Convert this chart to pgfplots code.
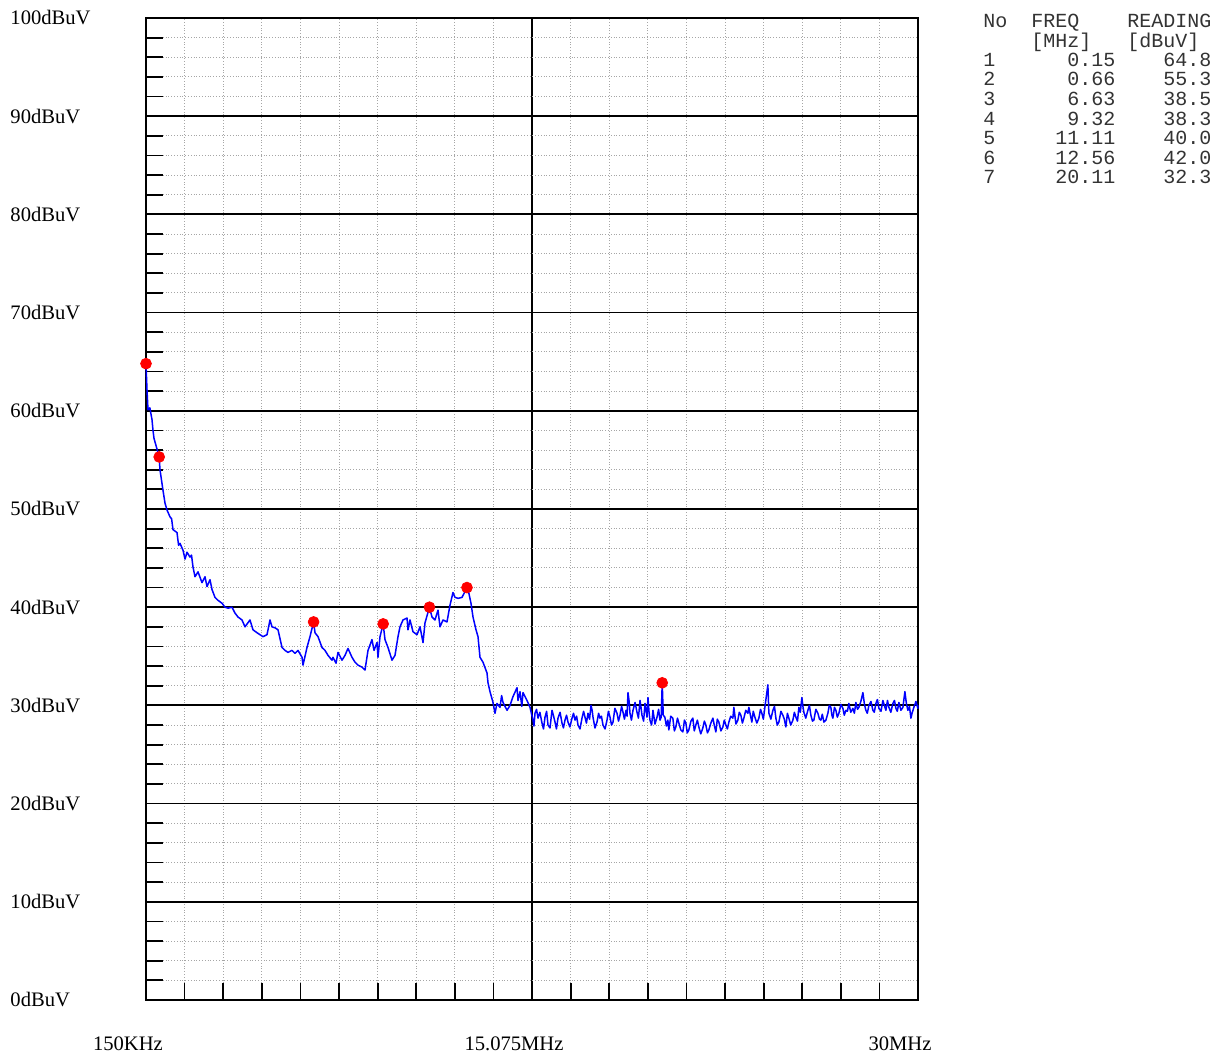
\documentclass[border=0pt]{standalone}
\usepackage{fontspec}
\setmainfont{Liberation Serif}
\setmonofont{Liberation Mono}
\usepackage{pgfplots}
\pgfplotsset{compat=1.18}

\pgfplotstableread{
f v
0.150 64.8
0.189 62.1
0.227 60.1
0.300 60.3
0.382 59.1
0.421 58.0
0.459 57.2
0.660 55.3
0.691 54.0
0.807 51.9
0.885 50.6
0.962 49.9
1.078 49.2
1.140 49.0
1.194 47.9
1.349 47.6
1.410 46.3
1.465 46.5
1.581 45.8
1.660 44.9
1.735 45.6
1.851 45.1
1.910 45.3
1.967 44.1
2.045 43.1
2.161 43.6
2.315 42.5
2.431 43.1
2.509 42.1
2.625 42.8
2.702 41.8
2.760 41.4
2.818 41.0
2.934 40.7
3.089 40.4
3.205 40.0
3.321 39.9
3.475 40.0
3.591 39.4
3.707 39.0
3.862 38.7
3.978 38.0
4.171 38.7
4.287 37.7
4.442 37.4
4.558 37.2
4.674 37.0
4.829 37.2
4.945 38.7
5.022 38.0
5.138 37.9
5.254 37.7
5.409 35.9
5.525 35.6
5.641 35.4
5.795 35.6
5.911 35.3
6.027 35.6
6.182 34.9
6.221 34.1
6.375 35.9
6.491 37.0
6.630 38.5
6.685 37.4
6.801 37.0
6.955 35.9
7.071 35.6
7.187 35.1
7.342 34.6
7.381 34.9
7.497 34.3
7.574 35.4
7.729 34.6
7.845 35.1
7.960 35.8
8.115 34.9
8.231 34.4
8.347 34.1
8.502 33.9
8.618 33.6
8.734 35.6
8.888 36.7
8.966 35.6
9.082 36.4
9.120 34.9
9.198 37.0
9.320 38.3
9.391 36.7
9.507 35.9
9.662 34.6
9.778 35.1
9.894 37.0
9.971 38.0
10.087 38.7
10.242 38.9
10.280 37.7
10.358 38.7
10.474 37.5
10.629 37.2
10.745 38.0
10.861 36.4
10.938 38.4
11.110 40.0
11.208 39.0
11.324 38.7
11.440 39.7
11.518 38.0
11.634 38.7
11.788 38.5
11.904 40.2
12.020 41.5
12.098 41.0
12.214 40.9
12.369 41.0
12.560 42.0
12.620 41.6
12.716 40.4
12.794 39.0
12.910 37.7
12.987 37.0
13.064 34.9
13.180 34.4
13.335 33.3
13.374 32.3
13.451 31.4
13.567 30.3
13.644 29.2
13.722 30.2
13.838 29.8
13.900 31.0
13.954 30.3
14.109 29.5
14.225 30.0
14.341 30.9
14.495 31.8
14.534 30.5
14.611 31.4
14.680 29.9
14.727 31.3
14.804 30.9
14.882 30.5
14.998 29.8
15.114 28.5
15.150 27.9
15.191 29.2
15.250 29.6
15.307 28.7
15.380 29.3
15.462 28.2
15.520 27.6
15.578 28.8
15.640 29.4
15.694 28.0
15.770 27.7
15.849 29.5
15.910 28.9
15.965 28.3
16.020 27.6
16.080 28.7
16.160 29.3
16.235 28.2
16.290 27.7
16.351 28.5
16.410 29.0
16.467 28.3
16.540 27.8
16.622 28.7
16.680 29.2
16.738 28.5
16.800 28.9
16.854 28.0
16.930 27.6
17.008 28.7
17.070 29.4
17.124 28.8
17.180 28.2
17.240 29.2
17.300 28.6
17.356 30.0
17.400 29.5
17.434 28.8
17.510 27.7
17.588 28.3
17.650 29.2
17.704 28.7
17.760 28.9
17.820 28.0
17.900 27.6
17.975 28.5
18.030 29.4
18.091 28.8
18.150 28.0
18.207 28.3
18.280 29.7
18.362 29.2
18.420 28.4
18.478 29.0
18.540 29.9
18.594 29.3
18.650 28.6
18.710 29.5
18.750 28.9
18.787 31.3
18.830 30.4
18.864 29.2
18.920 28.5
18.980 29.5
19.060 30.3
19.135 29.3
19.190 28.7
19.251 30.5
19.290 29.8
19.328 29.0
19.390 28.4
19.444 30.2
19.480 29.6
19.521 28.8
19.560 30.8
19.600 29.3
19.637 28.5
19.700 28.0
19.753 29.5
19.830 28.1
19.908 28.8
19.970 29.6
20.024 28.5
20.070 28.8
20.110 32.3
20.150 29.0
20.212 28.8
20.270 27.9
20.328 28.5
20.366 27.5
20.440 28.9
20.521 28.7
20.580 27.4
20.637 27.8
20.700 28.7
20.753 28.2
20.830 27.5
20.908 27.3
20.970 28.5
21.024 28.2
21.080 27.2
21.140 27.5
21.220 28.4
21.294 28.7
21.350 27.4
21.410 28.0
21.470 28.5
21.526 27.8
21.600 27.1
21.681 27.7
21.740 28.4
21.797 28.0
21.860 27.2
21.913 27.5
21.990 28.2
22.068 28.7
22.130 27.9
22.184 27.3
22.240 28.6
22.300 28.3
22.380 27.4
22.455 27.8
22.510 28.5
22.571 28.0
22.630 27.6
22.687 28.3
22.760 28.9
22.842 28.7
22.880 29.8
22.960 28.1
23.035 28.5
23.090 29.3
23.151 29.0
23.210 28.2
23.267 28.7
23.340 29.5
23.422 29.2
23.460 29.8
23.520 29.0
23.576 28.3
23.630 29.4
23.692 28.8
23.770 28.2
23.847 28.7
23.910 29.6
23.963 29.2
24.020 28.6
24.079 29.8
24.195 32.1
24.234 29.2
24.310 28.6
24.389 29.5
24.450 29.9
24.505 28.7
24.560 28.0
24.621 28.3
24.700 29.4
24.775 29.0
24.830 28.6
24.891 27.8
24.950 29.2
25.007 28.7
25.080 28.0
25.162 28.5
25.220 29.3
25.278 28.8
25.340 28.4
25.394 29.8
25.450 29.3
25.510 30.8
25.550 29.9
25.587 29.3
25.660 28.7
25.742 29.5
25.800 30.0
25.858 29.0
25.920 28.4
25.974 28.5
26.050 29.6
26.129 29.2
26.190 28.6
26.245 28.5
26.300 29.1
26.361 28.3
26.440 28.5
26.515 29.2
26.570 30.0
26.631 29.8
26.670 29.0
26.709 28.7
26.770 29.8
26.825 29.5
26.880 28.8
26.941 29.2
27.020 30.1
27.096 29.7
27.150 29.0
27.212 29.5
27.270 29.4
27.327 30.2
27.400 29.3
27.482 29.7
27.540 29.2
27.598 30.3
27.660 29.6
27.714 29.8
27.790 30.4
27.869 31.3
27.930 30.1
27.985 29.5
28.040 29.2
28.101 30.0
28.180 30.4
28.256 29.5
28.310 29.3
28.372 30.2
28.430 30.6
28.488 29.7
28.570 29.4
28.642 30.5
28.700 30.0
28.758 29.5
28.820 30.5
28.874 29.8
28.950 29.3
29.029 30.2
29.090 30.5
29.145 29.7
29.200 29.4
29.261 30.3
29.340 29.5
29.416 29.8
29.493 31.4
29.550 30.2
29.609 29.5
29.670 29.9
29.725 28.7
29.780 29.3
29.841 29.8
29.920 30.4
29.996 29.7
30.000 30.0
}\trace

\pgfplotstableread{
f v
0.15 64.8
0.66 55.3
6.63 38.5
9.32 38.3
11.11 40.0
12.56 42.0
20.11 32.3
}\peaks

\begin{document}
\begin{tikzpicture}
\path[use as bounding box] (-73pt,-27pt) rectangle (537.5pt,500pt);
\begin{axis}[
  at={(0,0)}, anchor=south west,
  scale only axis, width=386pt, height=491pt,
  xmin=0.15, xmax=30, ymin=0, ymax=100,
  xtick={0.15,15.075,30},
  xticklabels={150KHz,15.075MHz,30MHz},
  minor x tick num=9,
  ytick={0,10,...,100},
  yticklabels={0dBuV,10dBuV,20dBuV,30dBuV,40dBuV,50dBuV,60dBuV,70dBuV,80dBuV,90dBuV,100dBuV},
  minor y tick num=4,
  grid=both,
  major grid style={black, line width=0.9pt},
  minor grid style={black!35, densely dotted, line width=0.5pt},
  axis line style={black, line width=1pt},
  tick align=inside,
  xtick pos=left, ytick pos=left,
  major tick length=0pt,
  minor tick length=8.5pt,
  minor tick style={black, line width=0.9pt},
  tick label style={font=\fontsize{10.3}{12}\selectfont},
  xticklabel style={anchor=north, yshift=-15pt, xshift=-9pt},
  yticklabel style={anchor=west, xshift=-71.3pt},
  clip=false,
]
\addplot[blue, line width=0.75pt, line join=round] table[x=f, y=v] {\trace};
\addplot[only marks, mark=*, mark size=2.7pt, red, mark options={fill=red, draw=red}] table[x=f, y=v] {\peaks};
\end{axis}
\begin{scope}[every node/.style={anchor=base west, inner sep=0, font=\ttfamily\fontsize{10}{10}\selectfont, text=black!80}]
\node at (418.5pt,486pt) {No~~FREQ~~~~READING};
\node at (418.5pt,476pt) {~~~~[MHz]~~~[dBuV]};
\node at (418.5pt,466.5pt) {1~~~~~~0.15~~~~64.8};
\node at (418.5pt,457pt) {2~~~~~~0.66~~~~55.3};
\node at (418.5pt,447pt) {3~~~~~~6.63~~~~38.5};
\node at (418.5pt,437pt) {4~~~~~~9.32~~~~38.3};
\node at (418.5pt,427.5pt) {5~~~~~11.11~~~~40.0};
\node at (418.5pt,417.5pt) {6~~~~~12.56~~~~42.0};
\node at (418.5pt,408pt) {7~~~~~20.11~~~~32.3};
\end{scope}
\end{tikzpicture}
\end{document}
